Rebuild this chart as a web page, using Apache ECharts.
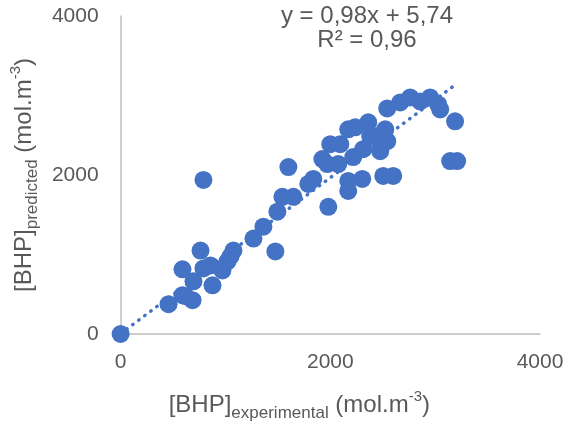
<!DOCTYPE html>
<html>
<head>
<meta charset="utf-8">
<script src="https://cdn.jsdelivr.net/npm/echarts@6/dist/echarts.min.js"></script>
<style>
  html, body { margin: 0; padding: 0; background: #fff; }
  #chart { width: 577px; height: 427px; }
</style>
</head>
<body>
<div id="chart"></div>
<script>
// experimental vs predicted BHP (mol.m-3)
const experimental = [
  0, 457, 590, 686, 619, 590, 762, 695, 790, 876, 857, 971, 1019, 1048, 1076,
  790, 1267, 1362, 1476, 1495, 1543, 1648, 1600, 1790, 1838, 1981, 1924, 2000,
  2095, 1971, 2076, 2171, 2171, 2305, 2219, 2171, 2238, 2362, 2381, 2314, 2476,
  2448, 2524, 2543, 2505, 2600, 2543, 2667, 2762, 2857, 2952, 3029, 3048, 3190,
  3143, 3210
];
const predicted = [
  0, 375, 488, 425, 475, 813, 1050, 663, 825, 613, 863, 800, 913, 975, 1050,
  1938, 1200, 1350, 1038, 1538, 1725, 1725, 2100, 1888, 1950, 1600, 2200, 2388,
  2388, 2138, 2138, 1925, 1800, 1950, 2225, 2575, 2600, 2663, 2488, 2325, 2300,
  2488, 2575, 2425, 1988, 1988, 2838, 2913, 2975, 2925, 2975, 2888, 2825, 2675,
  2175, 2175
];
const axisTicks = [0, 2000, 4000];
const slope = 0.98;
const intercept = 5.74;
const trendRange = [0, 3190];

const points = experimental.map((x, i) => [x, predicted[i]]);
const trend = trendRange.map((x) => [x, slope * x + intercept]);

const chart = echarts.init(document.getElementById("chart"));
const textColor = "#595959";
const font = "Liberation Sans, Arial, sans-serif";

// rich styles for the axis titles (subscript / superscript)
const titleRich = {
  a: { fontSize: 24, color: textColor, fontFamily: font, verticalAlign: "bottom", lineHeight: 28 },
  sub: { fontSize: 17, color: textColor, fontFamily: font, verticalAlign: "bottom", lineHeight: 28, padding: [0, 0, -5, 0] },
  sup: { fontSize: 15, color: textColor, fontFamily: font, verticalAlign: "top", lineHeight: 28 },
};

chart.setOption({
  animation: false,
  textStyle: { fontFamily: font },
  grid: { left: 120, right: 37, top: 16, bottom: 91 },
  graphic: [
    {
      type: "text",
      x: 367,
      y: 4,
      style: {
        text: "y = 0,98x + 5,74\nR² = 0,96",
        fill: textColor,
        font: "24px " + font,
        textAlign: "center",
        textVerticalAlign: "top",
        lineHeight: 24,
      },
    },
  ],
  xAxis: {
    type: "value",
    min: axisTicks[0],
    max: axisTicks[axisTicks.length - 1],
    interval: 2000,
    axisLine: { show: true, onZero: false, lineStyle: { color: "#bfbfbf", width: 1.5 } },
    axisTick: { show: false },
    splitLine: { show: false },
    axisLabel: { color: textColor, fontSize: 21, margin: 18, formatter: (v) => String(v) },
    name: "{a|[BHP]}{sub|experimental}{a| (mol.m}{sup|-3}{a|)}",
    nameLocation: "middle",
    nameGap: 55,
    nameTextStyle: { rich: titleRich, padding: [0, 62, 0, 0] },
  },
  yAxis: {
    type: "value",
    min: axisTicks[0],
    max: axisTicks[axisTicks.length - 1],
    interval: 2000,
    axisLine: { show: true, onZero: false, lineStyle: { color: "#bfbfbf", width: 1.5 } },
    axisTick: { show: false },
    splitLine: { show: false },
    axisLabel: { color: textColor, fontSize: 21, margin: 22, formatter: (v) => String(v) },
    name: "{a|[BHP]}{sub|predicted}{a| (mol.m}{sup|-3}{a|)}",
    nameLocation: "middle",
    nameGap: 84,
    nameTextStyle: { rich: titleRich },
  },
  series: [
    {
      type: "scatter",
      data: points,
      symbolSize: 18,
      itemStyle: { color: "#4472c4", opacity: 1 },
    },
    {
      type: "line",
      data: trend,
      symbol: "none",
      lineStyle: { color: "#4472c4", width: 3.5, type: [0.5, 7], cap: "round" },
      z: 3,
    },
  ],
});
</script>
</body>
</html>
